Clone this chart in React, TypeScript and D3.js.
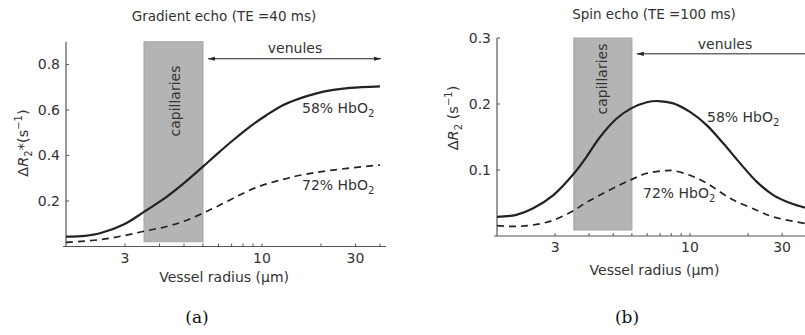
import React from "react";
import * as d3 from "d3";

// Vessel radius positions (axis units) and ΔR values for each curve
const gradRadius = [1.0, 1.25, 1.49, 1.98, 2.5, 3.26, 3.97, 4.98, 5.87, 7.14, 8.69, 10.57, 12.85, 15.63, 19.0, 23.1, 28.1, 40.0];
const grad58 = [0.043, 0.047, 0.058, 0.098, 0.152, 0.218, 0.276, 0.35, 0.405, 0.468, 0.527, 0.578, 0.622, 0.651, 0.673, 0.688, 0.697, 0.704];
const grad72Radius = [1.0, 1.49, 1.98, 2.5, 3.26, 3.97, 4.98, 5.87, 7.14, 8.69, 10.57, 12.85, 15.63, 23.1, 40.0];
const grad72 = [0.018, 0.03, 0.048, 0.067, 0.088, 0.11, 0.146, 0.175, 0.212, 0.248, 0.275, 0.295, 0.313, 0.336, 0.358];

const spinRadius = [1.0, 1.26, 1.54, 1.96, 2.51, 2.91, 3.42, 4.17, 4.93, 5.97, 6.85, 8.2, 10.0, 12.2, 14.9, 18.2, 22.2, 27.0, 33.0, 39.4];
const spin58 = [0.029, 0.032, 0.042, 0.062, 0.095, 0.12, 0.15, 0.178, 0.193, 0.2026, 0.2045, 0.201, 0.188, 0.168, 0.14, 0.11, 0.082, 0.062, 0.05, 0.043];
const spin72Radius = [1.0, 1.26, 1.54, 1.96, 2.51, 2.91, 3.42, 4.17, 4.93, 5.97, 7.5, 8.2, 10.0, 12.2, 16.5, 22.2, 27.0, 39.4];
const spin72 = [0.0156, 0.0145, 0.0167, 0.024, 0.039, 0.051, 0.062, 0.075, 0.085, 0.095, 0.099, 0.099, 0.092, 0.08, 0.0556, 0.039, 0.029, 0.019];

// Axis ticks
const majorTickValues = [2, 10, 30];
const majorTickLabels = ["3", "10", "30"];
const minorTickValues = [3, 4, 5, 6, 7, 8, 9, 20, 40];
const gradYTicks = [0.2, 0.4, 0.6, 0.8];
const spinYTicks = [0.1, 0.2, 0.3];

// Capillary band and venule span (axis units)
const capillaryRange = [2.5, 5.0];
const venuleRange = [5.3, 40.5];

const FONT = "'DejaVu Sans', 'Bitstream Vera Sans', sans-serif";
const TEXT = "#333";
const AXIS = "#555";

type PanelProps = {
  x0: number; decade: number; xMax: number;
  yDomain: [number, number]; yRange: [number, number];
  yTicks: number[];
  solid: [number, number][]; dashed: [number, number][];
  capBottom: number;
  title: string; titleX: number; titleY: number;
  yLabelStar: boolean; yLabelX: number; yLabelY: number;
  venuleY: number; venuleTextX: number; venuleTextY: number; venuleBoth: boolean;
  capLabelX: number; capLabelY: number;
  lab58: [number, number]; lab72: [number, number];
  tag: string; tagX: number;
  xLabelY: number;
  id: string;
};

function Hb({ x, y, pct }: { x: number; y: number; pct: string }) {
  return (
    <text x={x} y={y} fontSize={14} fill={TEXT} fontFamily={FONT}>
      {pct}% HbO<tspan fontSize={10} dy={4}>2</tspan>
    </text>
  );
}

function Panel(p: PanelProps) {
  const xs = d3.scaleLog().domain([1, 10]).range([p.x0, p.x0 + p.decade]);
  const ys = d3.scaleLinear().domain(p.yDomain).range(p.yRange);
  const line = d3
    .line<[number, number]>()
    .x((d) => xs(d[0]))
    .y((d) => ys(d[1]))
    .curve(d3.curveCatmullRom.alpha(0.5));
  const yBase = ys(0);
  const yTop = ys(p.yDomain[1]);
  const axisLeft = xs(1);
  const axisRight = xs(p.xMax);
  const capL = xs(capillaryRange[0]);
  const capR = xs(capillaryRange[1]);
  const vy = ys(p.venuleY);
  const vL = xs(venuleRange[0]);
  const vR = p.venuleBoth ? xs(venuleRange[1]) : 900;
  return (
    <g>
      <defs>
        <marker id={`arrL-${p.id}`} viewBox="0 0 10 10" refX={0} refY={5} markerWidth={7} markerHeight={7} orient="auto" markerUnits="userSpaceOnUse">
          <path d="M10,2 L0,5 L10,8 Z" fill="#222" />
        </marker>
        <marker id={`arrR-${p.id}`} viewBox="0 0 10 10" refX={10} refY={5} markerWidth={7} markerHeight={7} orient="auto" markerUnits="userSpaceOnUse">
          <path d="M0,2 L10,5 L0,8 Z" fill="#222" />
        </marker>
      </defs>
      <text x={p.titleX} y={p.titleY} textAnchor="middle" fontSize={13.5} fill={TEXT} fontFamily={FONT}>
        {p.title}
      </text>
      {/* capillary band */}
      <rect x={capL} y={yTop} width={capR - capL} height={ys(p.capBottom) - yTop} fill="#b4b4b4" stroke="#a6a6a6" strokeWidth={1} />
      <text
        transform={`translate(${p.capLabelX},${p.capLabelY}) rotate(-90)`}
        textAnchor="middle" fontSize={14} fill={TEXT} fontFamily={FONT}
      >
        capillaries
      </text>
      {/* venule span */}
      <line x1={vL} x2={vR} y1={vy} y2={vy} stroke="#222" strokeWidth={1}
        markerStart={`url(#arrL-${p.id})`} markerEnd={p.venuleBoth ? `url(#arrR-${p.id})` : undefined} />
      <text x={p.venuleTextX} y={p.venuleTextY} textAnchor="middle" fontSize={14} fill={TEXT} fontFamily={FONT}>
        venules
      </text>
      {/* axes */}
      <line x1={axisLeft - 3} x2={axisRight} y1={yBase} y2={yBase} stroke={AXIS} strokeWidth={1.2} />
      <line x1={axisLeft} x2={axisLeft} y1={yBase} y2={yTop} stroke={AXIS} strokeWidth={1.2} />
      {majorTickValues.concat(minorTickValues).map((v) => (
        <line key={`xt${v}`} x1={xs(v)} x2={xs(v)} y1={yBase} y2={yBase - 3} stroke={AXIS} strokeWidth={1} />
      ))}
      {majorTickValues.map((v, i) => (
        <text key={`xl${v}`} x={xs(v)} y={yBase + 16} textAnchor="middle" fontSize={14} fill={TEXT} fontFamily={FONT}>
          {majorTickLabels[i]}
        </text>
      ))}
      {p.yTicks.map((v) => (
        <g key={`yt${v}`}>
          <line x1={axisLeft} x2={axisLeft + 3} y1={ys(v)} y2={ys(v)} stroke={AXIS} strokeWidth={1} />
          <text x={axisLeft - 6} y={ys(v) + 5} textAnchor="end" fontSize={14} fill={TEXT} fontFamily={FONT}>
            {v.toFixed(1)}
          </text>
        </g>
      ))}
      <text x={(axisLeft + axisRight) / 2 - 2} y={p.xLabelY} textAnchor="middle" fontSize={14} fill={TEXT} fontFamily={FONT}>
        Vessel radius (μm)
      </text>
      <text
        transform={`translate(${p.yLabelX},${p.yLabelY}) rotate(-90)`}
        textAnchor="middle" fontSize={14.5} fill={TEXT} fontFamily={FONT}
      >
        Δ<tspan fontStyle="italic">R</tspan>
        <tspan fontSize={10} dy={4}>2</tspan>
        {p.yLabelStar ? <tspan dy={-4}>*</tspan> : <tspan dy={-4}> </tspan>}
        <tspan>(s</tspan>
        <tspan fontSize={10} dy={-6}>−1</tspan>
        <tspan dy={6}>)</tspan>
      </text>
      {/* curves */}
      <path d={line(p.solid) ?? ""} fill="none" stroke="#222" strokeWidth={2.2} />
      <path d={line(p.dashed) ?? ""} fill="none" stroke="#222" strokeWidth={1.7} strokeDasharray="7,5" />
      <Hb x={p.lab58[0]} y={p.lab58[1]} pct="58" />
      <Hb x={p.lab72[0]} y={p.lab72[1]} pct="72" />
      <text x={p.tagX} y={323} textAnchor="middle" fontSize={17} fill="#111" fontFamily="'DejaVu Serif', 'Liberation Serif', serif">
        {p.tag}
      </text>
    </g>
  );
}

const zip = (a: number[], b: number[]) => a.map((v, i) => [v, b[i]] as [number, number]);

export default function App() {
  return (
    <div style={{ position: "absolute", left: 0, top: 0 }}>
      <svg width={805} height={335} style={{ display: "block", background: "#fff" }}>
        <Panel
          id="a" x0={66} decade={196} xMax={43}
          yDomain={[0, 0.9]} yRange={[246.5, 41.7]} yTicks={gradYTicks}
          solid={zip(gradRadius, grad58)} dashed={zip(grad72Radius, grad72)}
          capBottom={0.021}
          title="Gradient echo (TE =40 ms)" titleX={224} titleY={21}
          yLabelStar={true} yLabelX={28} yLabelY={143}
          venuleY={0.825} venuleTextX={295} venuleTextY={53} venuleBoth={true}
          capLabelX={180} capLabelY={101}
          lab58={[302, 113]} lab72={[302, 190]}
          tag="(a)" tagX={197} xLabelY={282}
        />
        <Panel
          id="b" x0={497} decade={193} xMax={45}
          yDomain={[0, 0.3]} yRange={[236, 38]} yTicks={spinYTicks}
          solid={zip(spinRadius, spin58)} dashed={zip(spin72Radius, spin72)}
          capBottom={0.009}
          title="Spin echo (TE =100 ms)" titleX={654} titleY={19}
          yLabelStar={false} yLabelX={458} yLabelY={118}
          venuleY={0.276} venuleTextX={725} venuleTextY={49} venuleBoth={false}
          capLabelX={607} capLabelY={79}
          lab58={[707, 122]} lab72={[643, 198]}
          tag="(b)" tagX={627} xLabelY={275}
        />
      </svg>
    </div>
  );
}
